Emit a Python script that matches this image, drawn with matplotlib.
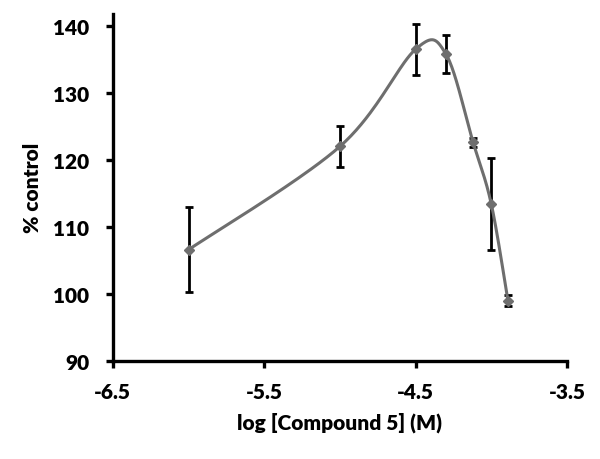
import numpy as np
import matplotlib
matplotlib.use("Agg")
import matplotlib.pyplot as plt

# Data
log_conc = [-6.0, -5.0, -4.5, -4.3, -4.12, -4.0, -3.89]
pct_control = [106.6, 122.0, 136.5, 135.8, 122.6, 113.4, 99.0]
err = [6.3, 3.0, 3.8, 2.9, 0.7, 6.9, 0.8]
x_ticks = [-6.5, -5.5, -4.5, -3.5]
y_ticks = [90, 100, 110, 120, 130, 140]

plt.rcParams['font.family'] = ['Lato', 'DejaVu Sans']
WEIGHT = 'heavy'

fig = plt.figure(figsize=(6, 4.6), dpi=100)
ax = fig.add_axes([0.188, 0.213, 0.757, 0.755])
ax.set_xlim(-6.5, -3.5)
ax.set_ylim(90, 141.8)

# Excel-style smoothed line (Bezier through points, computed in display space)
fig.canvas.draw()
pts = ax.transData.transform(np.column_stack([log_conc, pct_control]))
n = len(pts)
curve = []
t = np.linspace(0, 1, 40)
for i in range(n - 1):
    p0 = pts[i - 1] if i > 0 else pts[i]
    p1 = pts[i]
    p2 = pts[i + 1]
    p3 = pts[i + 2] if i + 2 < n else pts[i + 1]
    c1 = p1 + (p2 - p0) / 6.0
    c2 = p2 - (p3 - p1) / 6.0
    seg = ((1 - t)[:, None] ** 3 * p1 + 3 * ((1 - t) ** 2 * t)[:, None] * c1
           + 3 * ((1 - t) * t ** 2)[:, None] * c2 + (t ** 3)[:, None] * p2)
    curve.append(seg)
curve = np.vstack(curve)
curve_data = ax.transData.inverted().transform(curve)
ax.plot(curve_data[:, 0], curve_data[:, 1], color='#6e6e6e', lw=2.2, zorder=3,
        solid_capstyle='round')

ax.errorbar(log_conc, pct_control, yerr=err, fmt='none', ecolor='black',
            elinewidth=2.0, capsize=3, capthick=2.0, zorder=2)
ax.plot(log_conc, pct_control, linestyle='none', marker='D', markersize=5,
        color='#6e6e6e', zorder=4)

for s in ['top', 'right']:
    ax.spines[s].set_visible(False)
for s in ['left', 'bottom']:
    ax.spines[s].set_linewidth(2.4)
    ax.spines[s].set_color('black')

ax.set_xticks(x_ticks)
ax.set_xticklabels([f"{v}" for v in x_ticks])
ax.set_yticks(y_ticks)
ax.tick_params(axis='both', direction='out', length=5, width=2.4,
               labelsize=15)
ax.tick_params(axis='y', pad=12)
ax.tick_params(axis='x', pad=10)
for lab in ax.get_xticklabels() + ax.get_yticklabels():
    lab.set_fontweight(WEIGHT)

ax.set_xlabel('log [Compound 5] (M)', fontsize=15, fontweight=WEIGHT, labelpad=8)
ax.set_ylabel('% control', fontsize=15, fontweight=WEIGHT, labelpad=8)

fig.savefig('out.png', dpi=100)
